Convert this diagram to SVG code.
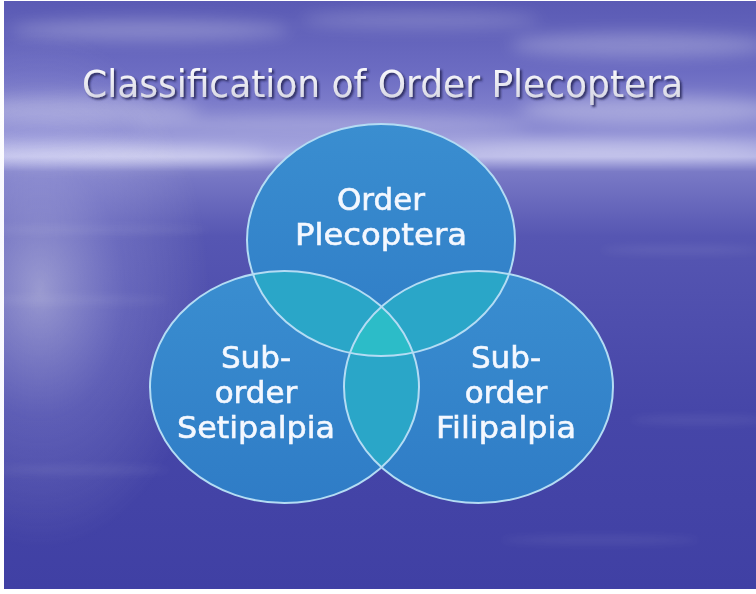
<svg xmlns="http://www.w3.org/2000/svg" width="756" height="594" viewBox="0 0 756 594">
  <defs>
    <style>
      .lbl { font-family: "DejaVu Sans", "Liberation Sans", sans-serif; font-size: 31px; fill: #f4f8ff; stroke: #f4f8ff; stroke-width: 0.6; text-anchor: middle; }
      .title { font-family: "DejaVu Sans", "Liberation Sans", sans-serif; font-size: 37px; }
      .ring { fill: none; stroke: #b4dcf4; stroke-width: 2; }
    </style>
    <linearGradient id="bg" x1="0" y1="0" x2="0" y2="1">
      <stop offset="0" stop-color="#5a5ab4"/>
      <stop offset="0.12" stop-color="#6c6cc2"/>
      <stop offset="0.22" stop-color="#8a8ad2"/>
      <stop offset="0.265" stop-color="#b4b4e6"/>
      <stop offset="0.29" stop-color="#7a7ac6"/>
      <stop offset="0.4" stop-color="#5656b2"/>
      <stop offset="0.7" stop-color="#4646a8"/>
      <stop offset="1" stop-color="#4040a4"/>
    </linearGradient>
    <radialGradient id="glow" cx="0.5" cy="0.5" r="0.5">
      <stop offset="0" stop-color="#ffffff" stop-opacity="0.42"/>
      <stop offset="0.5" stop-color="#dcdcff" stop-opacity="0.16"/>
      <stop offset="1" stop-color="#ffffff" stop-opacity="0"/>
    </radialGradient>
    <filter id="blur" x="-20%" y="-50%" width="140%" height="200%">
      <feGaussianBlur stdDeviation="8"/>
    </filter>
    <filter id="blur2" x="-20%" y="-200%" width="140%" height="500%">
      <feGaussianBlur stdDeviation="4"/>
    </filter>
    <filter id="shadow" x="-5%" y="-30%" width="110%" height="160%">
      <feGaussianBlur in="SourceAlpha" stdDeviation="1.2"/>
      <feOffset dx="2" dy="2" result="o"/>
      <feFlood flood-color="#202050" flood-opacity="0.85"/>
      <feComposite in2="o" operator="in"/>
      <feMerge><feMergeNode/><feMergeNode in="SourceGraphic"/></feMerge>
    </filter>
    <linearGradient id="titleFill" x1="0" y1="0" x2="0" y2="1">
      <stop offset="0" stop-color="#ffffff"/>
      <stop offset="1" stop-color="#d0d0e0"/>
    </linearGradient>
    <linearGradient id="circFill" x1="0" y1="0" x2="0" y2="1">
      <stop offset="0" stop-color="#3a8ed0"/>
      <stop offset="1" stop-color="#2f7cc6"/>
    </linearGradient>
    <ellipse id="cT" cx="381" cy="240" rx="134" ry="116"/>
    <ellipse id="cL" cx="284.5" cy="387" rx="134.5" ry="116"/>
    <ellipse id="cR" cx="478.5" cy="387" rx="134.5" ry="116"/>
    <clipPath id="clipT"><use href="#cT"/></clipPath>
    <clipPath id="clipL"><use href="#cL"/></clipPath>
    <clipPath id="clipR"><use href="#cR"/></clipPath>
  </defs>

  <!-- background photo approximation -->
  <rect x="0" y="0" width="756" height="594" fill="#ffffff"/>
  <g id="background">
    <rect x="4" y="1" width="752" height="588" fill="url(#bg)"/>
    <g filter="url(#blur)" fill="#ffffff">
      <ellipse cx="150" cy="30" rx="140" ry="10" opacity="0.25"/>
      <ellipse cx="420" cy="20" rx="120" ry="8" opacity="0.2"/>
      <ellipse cx="640" cy="45" rx="130" ry="12" opacity="0.25"/>
      <ellipse cx="80" cy="110" rx="120" ry="14" opacity="0.25"/>
      <ellipse cx="330" cy="125" rx="200" ry="10" opacity="0.22"/>
      <ellipse cx="650" cy="110" rx="130" ry="14" opacity="0.3"/>
      <ellipse cx="600" cy="150" rx="170" ry="8" opacity="0.35"/>
      <ellipse cx="120" cy="155" rx="150" ry="8" opacity="0.4"/>
    </g>
    <ellipse cx="40" cy="290" rx="170" ry="260" fill="url(#glow)"/>
    <g filter="url(#blur2)" fill="#ffffff" opacity="0.08">
      <ellipse cx="90" cy="230" rx="120" ry="4"/>
      <ellipse cx="70" cy="300" rx="100" ry="4"/>
      <ellipse cx="680" cy="250" rx="80" ry="4"/>
      <ellipse cx="700" cy="420" rx="70" ry="4"/>
      <ellipse cx="80" cy="470" rx="90" ry="4"/>
      <ellipse cx="600" cy="540" rx="100" ry="4"/>
    </g>
  </g>

  <!-- title -->
  <text class="title" x="82" y="97" textLength="601" lengthAdjust="spacingAndGlyphs" fill="url(#titleFill)" filter="url(#shadow)">Classification of Order Plecoptera</text>

  <!-- venn fills -->
  <g id="fills">
    <use href="#cT" fill="url(#circFill)"/>
    <use href="#cL" fill="url(#circFill)"/>
    <use href="#cR" fill="url(#circFill)"/>
    <g clip-path="url(#clipT)">
      <use href="#cL" fill="#2aa6c8"/>
      <use href="#cR" fill="#2aa6c8"/>
    </g>
    <g clip-path="url(#clipL)">
      <use href="#cR" fill="#2aa6c8"/>
    </g>
    <g clip-path="url(#clipT)">
      <g clip-path="url(#clipL)">
        <use href="#cR" fill="#2cbcc8"/>
      </g>
    </g>
  </g>

  <g id="node-top">
    <use href="#cT" class="ring"/>
    <text class="lbl" x="381" y="210">Order</text>
    <text class="lbl" x="381" y="245" textLength="172" lengthAdjust="spacingAndGlyphs">Plecoptera</text>
  </g>
  <g id="node-left">
    <use href="#cL" class="ring"/>
    <text class="lbl" x="256" y="368">Sub-</text>
    <text class="lbl" x="256" y="403">order</text>
    <text class="lbl" x="256" y="438" textLength="158" lengthAdjust="spacingAndGlyphs">Setipalpia</text>
  </g>
  <g id="node-right">
    <use href="#cR" class="ring"/>
    <text class="lbl" x="506" y="368">Sub-</text>
    <text class="lbl" x="506" y="403">order</text>
    <text class="lbl" x="506" y="438" textLength="140" lengthAdjust="spacingAndGlyphs">Filipalpia</text>
  </g>
</svg>
